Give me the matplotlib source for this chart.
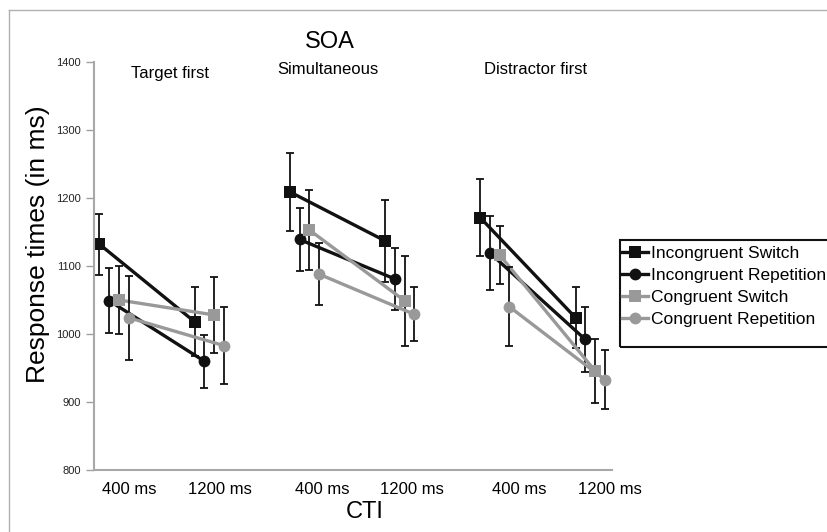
import numpy as np
import matplotlib
matplotlib.use('Agg')
import matplotlib.pyplot as plt
from matplotlib.lines import Line2D
from matplotlib.patches import Rectangle

plt.rcParams['font.family'] = ['Liberation Sans', 'DejaVu Sans']

W, H = 827, 532

soa_groups = ['Target first', 'Simultaneous', 'Distractor first']
cti_labels = ['400 ms', '1200 ms'] * 3
series = ['Incongruent Switch', 'Incongruent Repetition', 'Congruent Switch', 'Congruent Repetition']

# order: TF-400, TF-1200, Sim-400, Sim-1200, DF-400, DF-1200
inc_switch = [1132, 1018, 1209, 1137, 1171, 1024]
inc_rep = [1049, 960, 1139, 1081, 1119, 992]
con_switch = [1050, 1028, 1153, 1049, 1116, 946]
con_rep = [1024, 983, 1088, 1029, 1040, 933]

inc_switch_err = [45, 51, 57, 60, 57, 45]
inc_rep_err = [48, 39, 47, 46, 54, 48]
con_switch_err = [50, 56, 59, 66, 43, 47]
con_rep_err = [62, 57, 46, 40, 58, 43]

means = [inc_switch, inc_rep, con_switch, con_rep]
errs = [inc_switch_err, inc_rep_err, con_switch_err, con_rep_err]
colors = ['#111111', '#111111', '#999999', '#999999']
markers = ['s', 'o', 's', 'o']
msizes = [8, 8.5, 8, 8.5]


def fx(px):
    return px / W


def fy(py):
    return 1 - py / H


fig = plt.figure(figsize=(W / 100, H / 100), dpi=100)
ax = fig.add_axes([fx(94), fy(470), fx(612) - fx(94), fy(62) - fy(470)])

x = np.arange(6)
step = 0.102
for i, (m, e) in enumerate(zip(means, errs)):
    off = (i - 1.5) * step
    m = np.array(m)
    e = np.array(e)
    for g in range(3):
        sl = slice(2 * g, 2 * g + 2)
        ax.errorbar(x[sl] + off, m[sl], yerr=e[sl], fmt='none', ecolor='#111111',
                    elinewidth=1.3, capsize=3, capthick=1.3, zorder=2 + i)
        ax.plot(x[sl] + off, m[sl], color=colors[i], lw=2.4, marker=markers[i],
                ms=msizes[i], markeredgewidth=0, zorder=2.5 + i)

ax.set_xlim(-0.21, 5.23)
ax.set_ylim(800, 1400)
ax.set_yticks(range(800, 1401, 100))
ax.set_xticks([])
ax.tick_params(axis='y', labelsize=8, length=6, width=1, color='#a0a0a0',
               labelcolor='#222222', pad=3.5)
for s in ['top', 'right']:
    ax.spines[s].set_visible(False)
for s in ['left', 'bottom']:
    ax.spines[s].set_color('#a8a8a8')
    ax.spines[s].set_linewidth(1.5)

# labels
fig.text(fx(330), fy(42), 'SOA', fontsize=17, ha='center', va='center')
for lab, (px, py) in zip(soa_groups, [(170, 73), (328, 70), (536, 70)]):
    fig.text(fx(px), fy(py), lab, fontsize=12, ha='center', va='center')
for lab, px in zip(cti_labels, [129, 220, 322, 412, 519, 610]):
    fig.text(fx(px), fy(490), lab, fontsize=12, ha='center', va='center')
fig.text(fx(365), fy(512), 'CTI', fontsize=17, ha='center', va='center')
fig.text(fx(38), fy(244), 'Response times (in ms)', fontsize=19, rotation=90,
         ha='center', va='center')

# legend (frame drawn separately, it runs off the right edge)
handles = [Line2D([], [], color=c, lw=2.4, marker=mk, ms=ms, markeredgewidth=0)
           for c, mk, ms in zip(colors, markers, msizes)]
leg = fig.legend(handles, series, loc='upper left', bbox_to_anchor=(fx(622), fy(246)),
                 fontsize=12.5, frameon=False, handlelength=1.5,
                 handletextpad=0.15, borderpad=0, labelspacing=0.4, borderaxespad=0)
fig.add_artist(Rectangle((fx(620), fy(347)), fx(240), fy(240) - fy(347),
                         transform=fig.transFigure, fill=False,
                         edgecolor='#111111', lw=1.5))

# gray outer frame (left and top edges)
fig.add_artist(Line2D([fx(9), fx(9)], [0, fy(10)], color='#b0b0b0', lw=1))
fig.add_artist(Line2D([fx(9), 1], [fy(10), fy(10)], color='#b0b0b0', lw=1))

fig.savefig('out.png', dpi=100)
